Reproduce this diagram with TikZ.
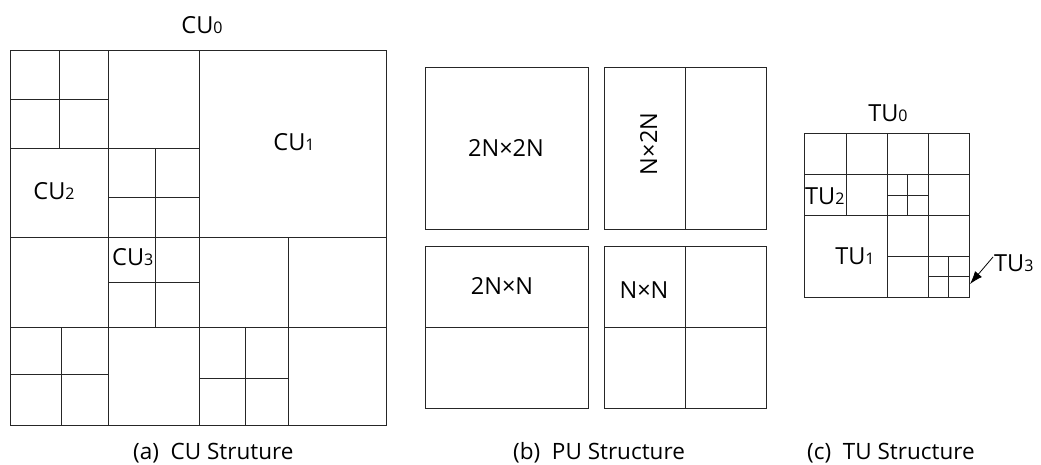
\documentclass[tikz,border=0pt]{standalone}
\usepackage{fontspec}
\setmainfont{Open Sans}
\usetikzlibrary{arrows.meta}
\newcommand{\dg}[1]{{\fontsize{16}{16}\selectfont #1}}
\begin{document}
\begin{tikzpicture}[x=1pt,y=-1pt,
  grid/.style={draw=black!85, line width=1pt},
  lbl/.style={font=\fontsize{23.5}{24}\selectfont, inner sep=0pt, anchor=base},
  capt/.style={font=\fontsize{22.5}{23}\selectfont, inner sep=0pt, anchor=base west}]
\useasboundingbox (0,0) rectangle (1041,464);

% ---------- CU structure ----------
\draw[grid] (10.5,50) rectangle (386,425);
\draw[grid] (199,50) -- (199,425);
\draw[grid] (10.5,237) -- (386,237);
% top-left quadrant
\draw[grid] (108,50) -- (108,237);
\draw[grid] (10.5,148) -- (199,148);
\draw[grid] (59,50) -- (59,148);
\draw[grid] (10.5,99) -- (108,99);
\draw[grid] (155,148) -- (155,237);
\draw[grid] (108,197) -- (199,197);
% bottom-left quadrant
\draw[grid] (108,237) -- (108,425);
\draw[grid] (10.5,327) -- (199,327);
\draw[grid] (155,237) -- (155,327);
\draw[grid] (108,282) -- (199,282);
\draw[grid] (61,327) -- (61,425);
\draw[grid] (10.5,374) -- (108,374);
% bottom-right quadrant
\draw[grid] (288,237) -- (288,425);
\draw[grid] (199,327) -- (386,327);
\draw[grid] (245,327) -- (245,425);
\draw[grid] (199,378) -- (288,378);

\node[lbl] (cu0) at (202,33) {CU\dg{0}};
\node[lbl] (cu1) at (294,150) {CU\dg{1}};
\node[lbl] (cu2) at (54,199) {CU\dg{2}};
\node[lbl, anchor=base west] (cu3) at (112,265) {CU\dg{3}};
\node[capt] (capa) at (133,459) {(a)\ \ CU Struture};

% ---------- PU structure ----------
\draw[grid] (425,67) rectangle (588,229);
\draw[grid] (604,67) rectangle (766,229);
\draw[grid] (685,67) -- (685,229);
\draw[grid] (425,246) rectangle (588,408);
\draw[grid] (425,327) -- (588,327);
\draw[grid] (604,246) rectangle (766,408);
\draw[grid] (685,246) -- (685,408);
\draw[grid] (604,327) -- (766,327);

\node[lbl] (p1) at (506,156) {2N×2N};
\node[lbl, rotate=90] (p2) at (657,144) {N×2N};
\node[lbl] (p3) at (502,294) {2N×N};
\node[lbl] (p4) at (644,298) {N×N};
\node[capt] (capb) at (513,459) {(b)\ \ PU Structure};

% ---------- TU structure ----------
\draw[grid] (804,133) rectangle (969,297);
\draw[grid] (887,133) -- (887,297);
\draw[grid] (804,215) -- (969,215);
\draw[grid] (846,133) -- (846,215);
\draw[grid] (804,174) -- (969,174);
\draw[grid] (928,133) -- (928,297);
\draw[grid] (887,256) -- (969,256);
\draw[grid] (907,174) -- (907,215);
\draw[grid] (887,195) -- (928,195);
\draw[grid] (948,256) -- (948,297);
\draw[grid] (928,276) -- (969,276);

\node[lbl] (tu0) at (888,121) {TU\dg{0}};
\node[lbl, anchor=base west] (tu2) at (805,204) {TU\dg{2}};
\node[lbl] (tu1) at (855,264) {TU\dg{1}};
\node[lbl, anchor=base west] (tu3) at (994,271.5) {TU\dg{3}};
\coordinate (t3tail) at (993,257);
\coordinate (t3tip) at (970,284);
\draw[line width=0.8pt, -{Latex[length=13pt,width=9pt]}] (t3tail) -- (t3tip);
\node[capt] (capc) at (807,459) {(c)\ \ TU Structure};
\end{tikzpicture}
\end{document}
